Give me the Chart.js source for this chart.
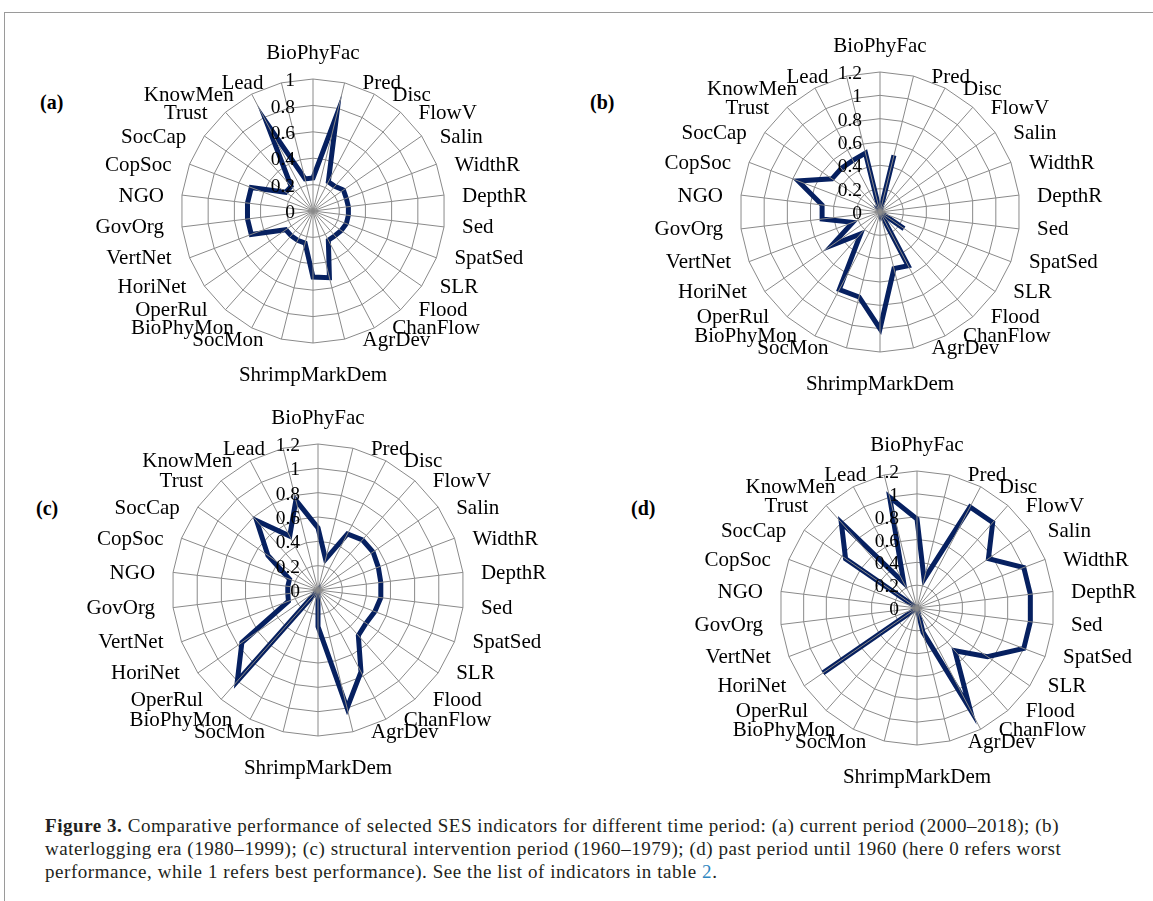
<!DOCTYPE html>
<html><head>
<meta charset="utf-8">
<title>Figure 3 - SES indicators radar</title>
<script src="https://cdn.jsdelivr.net/npm/chart.js"></script>
<style>
  body {
    margin: 0;
    width: 1153px;
    height: 901px;
    overflow: hidden;
    background: #fff;
    font-family: "Liberation Serif", "Times New Roman", serif;
    position: relative;
  }
  .frame {
    position: absolute;
    left: 4px;
    top: 12px;
    width: 1170px;
    height: 920px;
    border: 1.5px solid #9a9a9a;
  }
  canvas { position: absolute; }
  .panel {
    position: absolute;
    font-weight: bold;
    font-size: 20px;
    line-height: 20px;
  }
  .caption {
    position: absolute;
    left: 45px;
    top: 814px;
    font-size: 19px;
    letter-spacing: 0.55px;
    line-height: 23px;
    color: #231f20;
    white-space: nowrap;
  }
  .caption a { color: #2e86c1; text-decoration: none; }
</style>
</head>
<body>
<div class="frame"></div>

<div class="panel" style="left:40px; top:92px;">(a)</div>
<div class="panel" style="left:590px; top:92px;">(b)</div>
<div class="panel" style="left:36px; top:498px;">(c)</div>
<div class="panel" style="left:631px; top:498px;">(d)</div>

<canvas id="chartA" width="520" height="390"></canvas>
<canvas id="chartB" width="520" height="390"></canvas>
<canvas id="chartC" width="520" height="390"></canvas>
<canvas id="chartD" width="520" height="390"></canvas>

<div class="caption">
  <b>Figure 3.</b> Comparative performance of selected SES indicators for different time period: (a) current period (2000–2018); (b)<br>
  waterlogging era (1980–1999); (c) structural intervention period (1960–1979); (d) past period until 1960 (here 0 refers worst<br>
  performance, while 1 refers best performance). See the list of indicators in table <a>2</a>.
</div>

<script>
const categories = ['BioPhyFac', 'Pred', 'Disc', 'FlowV', 'Salin', 'WidthR', 'DepthR', 'Sed',
  'SpatSed', 'SLR', 'Flood', 'ChanFlow', 'AgrDev', 'ShrimpMarkDem', 'SocMon', 'BioPhyMon',
  'OperRul', 'HoriNet', 'VertNet', 'GovOrg', 'NGO', 'CopSoc', 'SocCap', 'Trust', 'KnowMen', 'Lead'];

// (a) current period 2000-2018
const currentPeriod = [0.25, 0.75, 0.25, 0.25, 0.28, 0.27, 0.27, 0.27, 0.27, 0.26, 0.25, 0.25, 0.52,
  0.5, 0.25, 0.25, 0.25, 0.25, 0.5, 0.5, 0.5, 0.5, 0.25, 0.25, 0.75, 0.25];
// (b) waterlogging era 1980-1999
const waterloggingEra = [0, 0.5, 0, 0, 0, 0, 0, 0, 0, 0.25, 0, 0.52, 0.5,
  1.0, 0.75, 0.75, 0.25, 0.5, 0.25, 0.5, 0.5, 0.75, 0.5, 0.5, 0.5, 0.52];
// (c) structural intervention period 1960-1979
const structuralPeriod = [0.51, 0.26, 0.52, 0.55, 0.55, 0.53, 0.52, 0.52, 0.5, 0.48, 0.5, 0.76, 1.0,
  0.3, 0, 0, 1.0, 0.76, 0.26, 0.25, 0.25, 0.25, 0.5, 0.76, 0.5, 0.76];
// (d) past period until 1960
const pastPeriod = [0.78, 0.26, 1.0, 1.0, 0.76, 1.0, 1.0, 1.0, 1.0, 0.75, 0.5, 1.0, 0.22,
  0, 0, 0, 0, 1.0, 0, 0, 0, 0, 0.76, 1.0, 0.25, 1.0];

const ticksToOne = ['0', '0.2', '0.4', '0.6', '0.8', '1'];
const ticksToOnePointTwo = ['0', '0.2', '0.4', '0.6', '0.8', '1', '1.2'];

const NAVY = '#062060';
const GRID = '#8a8a8a';
const CW = 520, CH = 390;   // canvas size
const LX = 260, LY = 190;   // centre inside canvas

function makeRadar(id, values, tickLabels, cx, cy, radius) {
  const el = document.getElementById(id);
  el.style.left = (cx - LX) + 'px';
  el.style.top = (cy - LY) + 'px';
  const max = parseFloat(tickLabels[tickLabels.length - 1]);

  // Excel style: spokes over the line, value labels left of the axis, labels beside the ring
  const excelRadar = {
    id: 'excelRadar',
    afterDatasetsDraw(chart) {
      const s = chart.scales.r;
      const ctx = chart.ctx;
      const n = chart.data.labels.length;
      ctx.save();
      ctx.strokeStyle = GRID;
      ctx.lineWidth = 1;
      for (let i = 0; i < n; i++) {
        const p = s.getPointPosition(i, s.drawingArea);
        ctx.beginPath();
        ctx.moveTo(s.xCenter, s.yCenter);
        ctx.lineTo(p.x, p.y);
        ctx.stroke();
      }
      ctx.fillStyle = '#000';
      ctx.font = '19.5px "Liberation Serif"';
      ctx.textAlign = 'right';
      ctx.textBaseline = 'middle';
      tickLabels.forEach(t => {
        const d = s.getDistanceFromCenterForValue(parseFloat(t));
        ctx.fillText(t, s.xCenter - 18, s.yCenter - d + 2);
      });
      ctx.font = '21px "Liberation Serif"';
      chart.data.labels.forEach((lab, i) => {
        const p = s.getPointPosition(i, s.drawingArea);
        const deg = i * 360 / n;
        if (deg === 0) {
          ctx.textAlign = 'center';
          ctx.fillText(lab, p.x, p.y - 26);
        } else if (deg === 180) {
          ctx.textAlign = 'center';
          ctx.fillText(lab, p.x, p.y + 32);
        } else if (deg < 180) {
          ctx.textAlign = 'left';
          ctx.fillText(lab, p.x + 18, p.y + 1);
        } else {
          ctx.textAlign = 'right';
          ctx.fillText(lab, p.x - 18, p.y + 1);
        }
      });
      ctx.restore();
    }
  };

  return new Chart(el, {
    type: 'radar',
    data: {
      labels: categories,
      datasets: [{
        data: values,
        borderColor: NAVY,
        borderWidth: 5,
        pointRadius: 0,
        pointHoverRadius: 0,
        fill: false,
        tension: 0
      }]
    },
    options: {
      responsive: false,
      animation: false,
      events: [],
      layout: {
        padding: {
          left: LX - radius,
          right: CW - LX - radius,
          top: LY - radius,
          bottom: CH - LY - radius
        }
      },
      plugins: {
        legend: { display: false },
        tooltip: { enabled: false }
      },
      scales: {
        r: {
          min: 0,
          max: max,
          ticks: { display: false, stepSize: 0.2 },
          pointLabels: { display: false },
          grid: { color: GRID, lineWidth: 1 },
          angleLines: { display: false }
        }
      }
    },
    plugins: [excelRadar]
  });
}

makeRadar('chartA', currentPeriod, ticksToOne, 313, 211, 132);
makeRadar('chartB', waterloggingEra, ticksToOnePointTwo, 880, 212, 140);
makeRadar('chartC', structuralPeriod, ticksToOnePointTwo, 318, 590, 146);
makeRadar('chartD', pastPeriod, ticksToOnePointTwo, 917, 608, 137);
</script>
</body></html>
